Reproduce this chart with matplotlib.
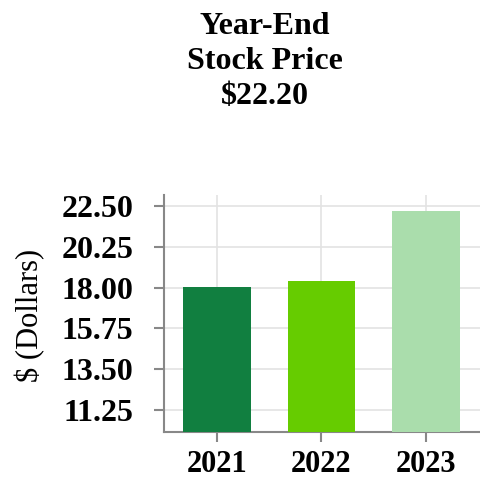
import numpy as np
import matplotlib.pyplot as plt

plt.rcParams['font.family'] = ['Liberation Serif', 'DejaVu Serif']

# data
years = ['2021', '2022', '2023']
prices = [18.03, 18.37, 22.20]
colors = ['#117f40', '#66cc00', '#aaddac']
yticks = [11.25, 13.50, 15.75, 18.00, 20.25, 22.50]

fig = plt.figure(figsize=(4.8, 4.79), dpi=100)
ax = fig.add_axes([164 / 480, 1 - 432 / 479, 316 / 480, 237 / 479])

x = np.arange(len(years))
ax.bar(x, prices, width=0.65, color=colors, zorder=3)

ax.set_xlim(-0.51, 2.52)
ax.set_ylim(10.05, 23.1)
ax.set_xticks(x)
ax.set_xticklabels(years, fontsize=22, fontweight='bold')
ax.set_yticks(yticks)
ax.set_yticklabels([f'{v:.2f}' for v in yticks], fontsize=23, fontweight='bold')

ax.grid(True, color='#e3e3e3', linewidth=1.2, zorder=0)
for side in ['top', 'right']:
    ax.spines[side].set_visible(False)
for side in ['left', 'bottom']:
    ax.spines[side].set_color('#888888')
    ax.spines[side].set_linewidth(1.5)
ax.tick_params(axis='both', colors='#888888', length=7, width=1.5, labelcolor='black')
ax.tick_params(axis='x', pad=6)
ax.tick_params(axis='y', pad=15)

fig.text(30 / 480, 1 - 315 / 479, '$ (Dollars)', rotation=90, fontsize=22,
         ha='center', va='center')
fig.text(265 / 480, 1 - 12 / 479, 'Year-End\nStock Price\n$22.20', fontsize=23,
         fontweight='bold', ha='center', va='top', linespacing=1.28)

fig.savefig('out.png', dpi=100)
